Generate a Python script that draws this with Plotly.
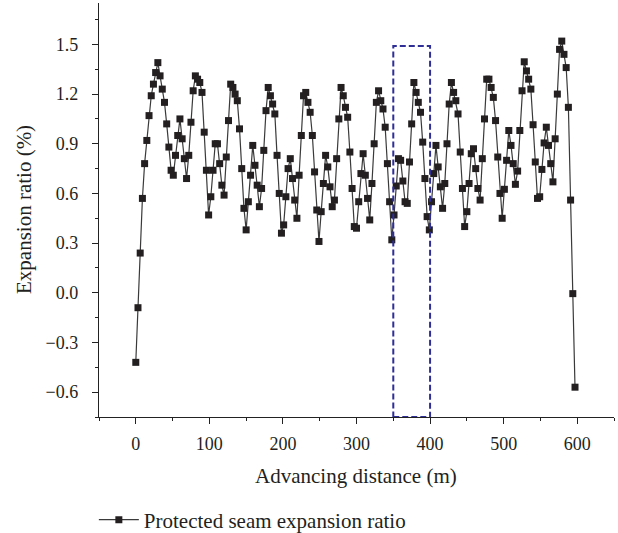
import plotly.graph_objects as go

# Advancing distance (m), sampled every 3 m
distance = [3 * i for i in range(200)]

# Protected seam expansion ratio (%)
expansion = [
    -0.42, -0.09, 0.24, 0.57, 0.78, 0.92, 1.07, 1.19, 1.26, 1.33,
    1.39, 1.31, 1.23, 1.15, 1.02, 0.88, 0.74, 0.71, 0.83, 0.95,
    1.05, 0.93, 0.81, 0.69, 0.83, 1.03, 1.22, 1.31, 1.29, 1.27,
    1.21, 0.97, 0.74, 0.47, 0.58, 0.74, 0.90, 0.90, 0.78, 0.65,
    0.59, 0.82, 1.04, 1.26, 1.24, 1.20, 1.16, 0.99, 0.75, 0.51,
    0.38, 0.55, 0.71, 0.89, 0.77, 0.65, 0.52, 0.63, 0.86, 1.10,
    1.24, 1.19, 1.14, 1.08, 0.83, 0.60, 0.36, 0.41, 0.58, 0.75,
    0.81, 0.69, 0.56, 0.45, 0.71, 0.95, 1.19, 1.21, 1.15, 1.09,
    0.95, 0.73, 0.50, 0.31, 0.49, 0.66, 0.83, 0.76, 0.64, 0.52,
    0.56, 0.81, 1.05, 1.24, 1.19, 1.12, 1.06, 0.85, 0.63, 0.40,
    0.39, 0.55, 0.72, 0.84, 0.71, 0.57, 0.44, 0.66, 0.90, 1.15,
    1.22, 1.16, 1.11, 1.00, 0.78, 0.55, 0.32, 0.47, 0.645, 0.81,
    0.80, 0.675, 0.55, 0.54, 0.79, 1.02, 1.27, 1.21, 1.15, 1.09,
    0.91, 0.69, 0.46, 0.38, 0.55, 0.72, 0.89, 0.76, 0.64, 0.51,
    0.66, 0.90, 1.14, 1.27, 1.21, 1.16, 1.08, 0.85, 0.63, 0.40,
    0.49, 0.66, 0.84, 0.87, 0.75, 0.63, 0.56, 0.81, 1.05, 1.29,
    1.29, 1.24, 1.18, 1.04, 0.82, 0.60, 0.45, 0.625, 0.80, 0.98,
    0.89, 0.78, 0.655, 0.735, 0.98, 1.22, 1.395, 1.34, 1.29, 1.23,
    1.015, 0.79, 0.57, 0.58, 0.745, 0.905, 1.00, 0.89, 0.78, 0.67,
    0.93, 1.20, 1.47, 1.52, 1.44, 1.36, 1.12, 0.56, -0.005, -0.57,
]

# Highlighted window (m) and its top (%)
box_x = [350, 400]
box_top = 1.49

x_ticks = [0, 100, 200, 300, 400, 500, 600]
y_ticks = [-0.6, -0.3, 0.0, 0.3, 0.6, 0.9, 1.2, 1.5]
x_range = [-50, 650]
y_range = [-0.75, 1.75]

FONT = "Liberation Serif"

fig = go.Figure()
fig.add_trace(go.Scatter(
    x=distance, y=expansion, mode="lines+markers",
    name="Protected seam expansion ratio",
    line=dict(color="#3a3a3a", width=1.2),
    marker=dict(symbol="square", size=7, color="#231f20"),
))

fig.add_shape(
    type="rect", xref="x", yref="y",
    x0=box_x[0], x1=box_x[1], y0=y_range[0], y1=box_top,
    line=dict(color="#2e2e96", width=2, dash="6px,3px"),
    fillcolor="rgba(0,0,0,0)",
)

axis_common = dict(
    showgrid=False, zeroline=False, showline=True, linecolor="#222", linewidth=1.3,
    ticks="outside", ticklen=6, tickwidth=1.2, tickcolor="#222",
    tickfont=dict(family=FONT, size=18, color="#231f20"),
)

fig.update_xaxes(
    range=x_range, tickvals=x_ticks, ticklabelstandoff=4, **axis_common,
    minor=dict(ticks="outside", ticklen=3, tickwidth=1, tickcolor="#222", dtick=50, tick0=0),
)
fig.update_yaxes(
    range=y_range, tickvals=y_ticks, tickformat=".1f", ticklabelstandoff=10, **axis_common,
    minor=dict(ticks="outside", ticklen=3, tickwidth=1, tickcolor="#222", dtick=0.15, tick0=0),
)

fig.add_annotation(
    text="Advancing distance (m)", xref="paper", yref="paper",
    x=(356 - 99) / 515, y=-(476 - 417) / 414, showarrow=False,
    xanchor="center", yanchor="middle",
    font=dict(family=FONT, size=21, color="#231f20"),
)
fig.add_annotation(
    text="Expansion ratio (%)", xref="paper", yref="paper",
    x=(24 - 99) / 515, y=0.5, showarrow=False, textangle=-90,
    xanchor="center", yanchor="middle",
    font=dict(family=FONT, size=21, color="#231f20"),
)

fig.update_layout(
    width=618, height=533,
    margin=dict(l=99, r=4, t=3, b=116, autoexpand=False),
    paper_bgcolor="white", plot_bgcolor="white",
    showlegend=True,
    legend=dict(
        orientation="h", x=-0.01, y=-(520 - 417) / 414,
        xanchor="left", yanchor="middle", itemwidth=40,
        font=dict(family=FONT, size=21, color="#231f20"),
        bgcolor="rgba(0,0,0,0)",
    ),
)

fig.write_html("out.html")
